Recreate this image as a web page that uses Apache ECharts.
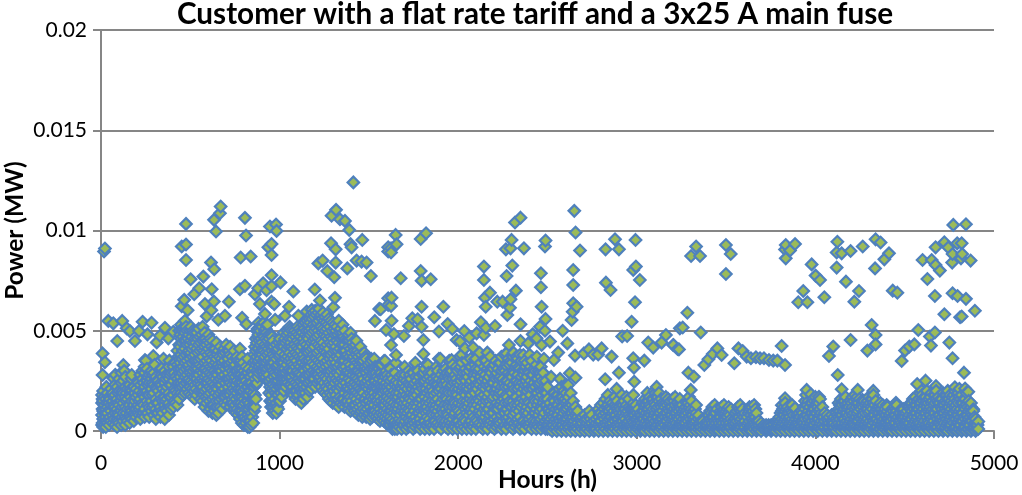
<!DOCTYPE html>
<html><head><meta charset="utf-8">
<script src="https://cdn.jsdelivr.net/npm/echarts@6/dist/echarts.min.js"></script>
<style>html,body{margin:0;padding:0;background:#fff}#c{width:1022px;height:495px}</style>
</head><body><div id="c"></div>
<script>
const chartTitle='Customer with a flat rate tariff and a 3x25 A main fuse';
const xName='Hours (h)', yName='Power (MW)';
// isolated points: [hours, MW]
const isolated=[[22,.0091],[17,.00895],[476,.01033],[452,.0092],[476,.0093],[476,.00853],[670,.0112],[666,.01086],[633,.01053],[644,.00995],[806,.01063],[812,.00975],[782,.00865],[838,.0087],[946,.0102],[980,.0103],[983,.00998],[955,.00933],[937,.00916],[955,.00878],[1413,.0124],[1291,.01074],[1316,.01103],[1338,.01056],[1366,.01048],[1390,.01003],[1288,.00936],[1314,.00906],[1403,.00916],[1397,.00932],[1463,.00953],[1217,.00836],[1241,.0085],[1314,.0084],[1267,.00798],[1306,.00767],[1379,.00811],[1431,.0085],[1459,.00845],[1487,.0084],[1511,.00773],[1608,.00916],[1608,.00895],
[502,.00757],[573,.0077],[616,.0084],[634,.00807],[550,.00712],[522,.00682],[620,.00707],[466,.00654],[452,.00622],[485,.00602],[582,.00633],[632,.00646],[716,.00645],[592,.00572],[694,.00575],[657,.00555],[618,.00602],[778,.00707],[806,.00724],[862,.00682],[880,.00712],[908,.00737],[955,.00722],[927,.00702],[955,.00777],[1005,.00741],[1077,.00696],[890,.00633],[955,.00645],[970,.00633],[1053,.0062],[1197,.00706],[1226,.00651],[1310,.00664],[1301,.00617],[790,.00565],[814,.00533],[927,.00528],[918,.00584],[975,.00555],[1030,.00575],[1105,.00575],[1152,.00596],[1180,.00604],[1534,.00549],[1558,.00609],[1608,.00662],[1608,.00629],
[41,.00549],[69,.00537],[119,.00549],[144,.00512],[162,.00499],[213,.00499],[233,.00545],[283,.0054],[260,.00482],[358,.00515],[330,.00475],[312,.00442],[377,.00462],[190,.00449],[91,.00449],[405,.00495],
[9,.00387],[22,.00343],[9,.00279],[69,.00263],[125,.00329],[172,.00279],[293,.00374],[246,.00354],[340,.00312],[383,.00351],[405,.00337],[367,.00282],
[1650,.00978],[1655,.00931],[1624,.00911],[1624,.0089],[1790,.00958],[1820,.00986],[1678,.00762],[1790,.00798],[1795,.0075],[1846,.00757],[1627,.00665],[1624,.00624],[1795,.0062],[1917,.0062],[1566,.00607],[1627,.0055],[1773,.00557],[1743,.00562],[1795,.0052],[1866,.00567],[1724,.00524],[1596,.00504],[1640,.00484],[1696,.00474],[1624,.00429],[1652,.00379],[1805,.00454],[1805,.00384],[1892,.00496],[1941,.00534],[1967,.00509],[1823,.00334],[1892,.0036],[1584,.00349],[1991,.00454],[2010,.00446],[2034,.00499],[2062,.00466],[2084,.00416],[2038,.00412],[2010,.00371],[1963,.00354],[2094,.00358],[2163,.00391],[2155,.00351],
[2144,.0082],[2144,.00753],[2178,.0069],[2150,.00665],[2154,.0062],[2219,.00645],[2249,.00645],[2293,.00657],[2323,.007],[2290,.00615],[2275,.00579],[2271,.00773],[2303,.00825],[2127,.00542],[2155,.00515],[2206,.00524],[2103,.00487],[2144,.00479],[2349,.00532],[2318,.0104],[2349,.01064],[2299,.00953],[2267,.00906],[2293,.00911],[2368,.00911],[2489,.0095],[2486,.0092],[2463,.00787],[2463,.00717],[2467,.0062],[2489,.00559],[2458,.0052],[2486,.005],[2417,.00482],[2439,.00462],[2467,.00429],[2392,.00437],[2349,.00449],[2284,.00429],[2514,.00446],[2585,.005],[2611,.00437],[2560,.00391],[2536,.00354],[2365,.00379],[2271,.00387],[2327,.00371],
[2650,.01098],[2657,.0099],[2682,.009],[2644,.00803],[2644,.00728],[2644,.00637],[2663,.0062],[2641,.00595],[2635,.00554],[2825,.00906],[2878,.00956],[2900,.00906],[2993,.00953],[2995,.0082],[2980,.00803],[3017,.00753],[2827,.0074],[2853,.00703],[2990,.00642],[2971,.00545],[2946,.00474],[2918,.00471],[2654,.00376],[2704,.00387],[2732,.00407],[2756,.00381],[2784,.00382],[2803,.00412],[2859,.00371],[2625,.00288],[2657,.00266],[2616,.00229],[2823,.00258],[2900,.00291],[2887,.0021],[2980,.00363],[2984,.00316],[3042,.00351],[2986,.00246],[3064,.00441],[3092,.00416],[3139,.00441],[3163,.00479],[3204,.00429],[3228,.00409],[3241,.00512],
[3332,.0092],[3304,.00873],[3354,.00873],[3499,.00928],[3526,.00883],[3499,.00783],[3283,.0059],[3257,.00516],[3358,.00491],[3205,.00429],[3236,.00407],[3451,.00412],[3425,.00384],[3475,.00379],[3401,.00358],[3378,.00329],[3569,.00412],[3593,.00399],[3546,.00338],[3615,.00371],[3639,.00363],[3667,.00368],[3690,.00363],[3712,.00363],[3740,.00354],[3764,.00351],[3787,.00351],[3811,.00424],[3830,.00329],[3289,.00291],[3320,.00271],[3302,.00205],
[3834,.00928],[3886,.00933],[3858,.009],[3830,.00905],[3834,.00861],[3979,.00831],[4001,.00775],[4026,.00753],[3932,.00698],[3904,.00642],[3955,.00642],[4050,.00667],[4123,.00944],[4119,.0089],[4147,.00886],[4197,.00898],[4265,.0092],[4337,.00956],[4365,.0094],[4119,.00815],[4171,.00745],[4334,.00811],[4386,.00856],[4412,.00886],[4244,.00698],[4218,.00645],[4433,.007],[4459,.0069],[4315,.00529],[4337,.00479],[4337,.00432],[4291,.00401],[4197,.00454],[4100,.00421],[4076,.00374],[4125,.00279],[4147,.00208],[4576,.00504],[4554,.00432],[4526,.00421],[4502,.00401],[4483,.00349],[4641,.00471],[4669,.00491],[4647,.00426],[4750,.00441],[4768,.00363],[4832,.00291],[4772,.01028],[4843,.01031],[4673,.00916],[4722,.00941],[4744,.00915],[4794,.00936],[4819,.00936],[4768,.00883],[4822,.00883],[4815,.00861],[4869,.0085],[4766,.0084],[4600,.00853],[4651,.00853],[4673,.00828],[4697,.008],[4627,.00758],[4669,.00673],[4768,.00687],[4796,.00673],[4843,.00659],[4893,.006],[4722,.00582],[4810,.00567],[4819,.00571],[4570,.00234],[4617,.00251],[4595,.00201],[4675,.00224],[4781,.00218],[4856,.00196],[4838,.00212],[4725,.0018],[4884,.00108],[4912,.00047],[4912,.0001],[3951,.00205],[3975,.00183],[4020,.00171],[3830,.00163],[3886,.00113],[3812,.00129],[4237,.00205],[4324,.002],[4264,.00155],[4451,.00141],[4399,.0013],
[1530,.0036],[1560,.0033],[1590,.0035],[1650,.0034],[1700,.0032],[1760,.0034],[1830,.0033],[1900,.0036],[1950,.0035],[2020,.0038],[2070,.0036],[2120,.0039],[2180,.0037],[2210,.0035],[2260,.0038],[2310,.0039],[2400,.0038],[2440,.0037],[2480,.0036],[2520,.0027],[2570,.0026],[130,.003],[170,.0026],[250,.0035],[300,.0033],[350,.0036],[80,.0028],[30,.0022]];
// dense part, per hour: [hours, [kW readings]]
const denseEarly=[[6,[.3,.8,1.4,1.8]],[12,[.2,.6,1,1.5,2]],[19,[.3,.5,.9,1.3,1.7]],[27,[.2,.7,1.1,1.6]],[36,[.4,.9,1.2,1.9]],[45,[.3,.6,1.4,1.7]],[55,[.5,1,1.3,2.1]],[66,[.4,.8,1.5,1.9]],[78,[.3,.9,1.2,1.8,2.3]],[90,[.2,.6,1.1,1.6,2.2]],[101,[.4,.8,1.3,2,2.6]],[113,[.3,1,1.5,2.4,2.9]],[124,[.5,.9,1.4,1.9,2.5]],[136,[.3,.7,1.2,1.7,2.2,2.7]],[148,[.5,1.1,1.6,2.1]],[160,[.4,.8,1.3,1.8,2.3]],[172,[.6,1,1.5,2]],[184,[.5,.9,1.3,1.9,2.2]],[196,[.7,1.1,1.7,2.1]],[208,[.9,1.3,1.8,2.4]],[220,[.6,1.2,1.6,2.3,2.8]],[232,[.8,1.4,1.9,2.6,3]],[244,[.7,1.1,1.7,2.2,2.9,3.2]],[257,[.9,1.5,2,2.5,3.1]],[270,[.7,1.2,1.8,2.4,2.8]],[282,[1,1.5,2.1,2.6,3]],[295,[.8,1.3,1.9,2.3,2.9]],[307,[.6,1.1,1.6,2.2,2.7]],[320,[.9,1.4,2,2.5]],[333,[.7,1.2,1.8,2.4,3.1]],[345,[.9,1.5,2.1,2.7]],[357,[.6,1.3,1.7,2.4,3]],[369,[1,1.6,2.2,2.8]],[381,[.8,1.4,1.9,2.6,3.2]],[393,[1.1,1.7,2.3,2.9]],[405,[1.2,1.8,2.5,3.2]],[417,[1.4,2,2.7,3.4]],[428,[1.3,1.9,2.6,3.3,4]],[438,[1.6,2.2,2.9,3.6,4.3,5]],[448,[1.9,2.4,3.1,3.8,4.6,5.3]],[459,[1.8,2.5,3.2,4,4.7,5.1]],[470,[1.9,2.7,3.4,4.1,4.9,5.5]],[481,[2.1,2.8,3.5,4.3,5]],[492,[1.9,2.6,3.3,4,4.8]],[503,[1.8,2.5,3.1,3.9,4.5,5.2]],[514,[1.7,2.4,3,3.7,4.4,5]],[525,[1.6,2.3,3.1,3.8,4.6]],[536,[1.8,2.6,3.2,4.1,4.9]],[547,[2,2.8,3.5,4.3,5.1]],[558,[1.6,2.3,3,3.6,4.4]],[569,[1.5,2.2,2.9,3.7,4.5,5.2]],[580,[1.2,2,2.7,3.4,4.2,4.9]],[591,[1.4,2.1,2.8,3.5,4.3]],[602,[1,1.8,2.6,3.3,4.1,4.8]],[613,[1.1,1.9,2.5,3.2,3.9,4.6]],[624,[.9,1.6,2.4,3.1,3.8,4.5]],[635,[1,1.7,2.3,3,3.7]],[646,[.8,1.5,2.2,2.9,3.6,4.4]],[657,[.9,1.8,2.5,3.3,4]],[668,[1.2,1.9,2.6,3.2,4.2]],[679,[1.1,2,2.7,3.4,3.9]],[690,[1.4,2.1,2.8,3.5,4.1]],[701,[1.3,1.9,2.6,3.3,4.3]],[712,[1.5,2.2,2.9,3.6]],[723,[1.2,1.8,2.4,3.1,3.8,4.2]],[734,[1.6,2.3,3,3.7]],[745,[1.1,1.7,2.5,3.2,4]],[756,[.9,1.6,2.3,3,3.6]],[767,[.8,1.4,2.1,2.8,3.5]],[778,[.6,1.3,2,2.7,3.4,4.1]],[789,[.4,1,1.7,2.4,3.1,3.7]],[800,[.3,.9,1.6,2.3,3]],[811,[.4,1.1,1.8,2.5,3.2]],[822,[.2,.8,1.5,2.2,2.9,3.6]],[832,[.2,.7,1.4,2,2.7]],[842,[.3,.9,1.6,2.4]],[852,[.4,1.2,1.9,2.8,3.4]],[862,[1.2,1.8,2.6,3.5,4.2]],[872,[2.4,3,3.7,4.4,5]],[882,[2.9,3.5,4.1,4.8,5.4]],[892,[3,3.6,4.3,5]],[902,[3.1,3.8,4.4,5.2]],[912,[2.8,3.4,4,4.7,5.4]],[922,[2.7,3.2,3.9,4.6,5.1]],[932,[2.5,3.1,3.8,4.5,5.3]],[942,[1.9,2.5,3.2,3.9,4.6]],[952,[1.2,1.8,2.6,3.4,4.2,4.8]],[962,[.9,1.5,2.3,3,3.8,4.5]],[972,[1,1.6,2.2,2.9,3.7]],[982,[.9,1.4,2.1,2.8,3.6,4.3]],[992,[1.1,1.8,2.5,3.3,4.1]],[1002,[1.5,2.2,3,3.8,4.6]],[1012,[1.7,2.4,3.1,3.9]],[1023,[2,2.6,3.4,4.2,4.9]],[1034,[2.2,2.9,3.6,4.4]],[1045,[2.4,3,3.7,4.5,5]],[1056,[2.3,3.1,3.9,4.6,5.2]],[1067,[2,2.7,3.4,4.2,5]],[1078,[1.8,2.5,3.3,4.1,4.8]],[1089,[1.6,2.4,3.2,3.9,4.7]],[1100,[1.7,2.3,3,3.8,4.5,5.2]],[1111,[1.5,2.2,2.9,3.7,4.4,5.1]],[1122,[1.4,2.1,2.8,3.6,4.3,5]],[1133,[1.6,2.3,3.1,3.8,4.6,5.3]],[1144,[1.9,2.6,3.3,4,4.8,5.4]],[1155,[1.7,2.4,3.2,4,4.7,5.5]],[1166,[2,2.8,3.5,4.2,5,5.6]],[1177,[2.1,2.9,3.6,4.4,5.1,5.8]],[1188,[2.3,3,3.8,4.5,5.3,5.9]],[1199,[2.2,2.9,3.7,4.6,5.2,6]],[1210,[2.4,3.2,3.9,4.7,5.4]],[1221,[2.5,3.1,4,4.8,5.5,6.1]],[1232,[2.2,3,3.7,4.5,5.2,5.8]],[1243,[2,2.8,3.6,4.4,5.1,5.9]],[1254,[1.9,2.7,3.4,4.2,5,5.7]],[1265,[1.8,2.6,3.5,4.3,5.1,5.8]],[1276,[1.6,2.4,3.3,4.1,4.9,5.6]],[1287,[1.5,2.3,3,3.8,4.7,5.5]],[1298,[1.4,2.2,3.1,3.9,4.6,5.4]],[1309,[1.6,2.4,3.2,4,4.8,5.3]],[1320,[1.3,2.1,2.9,3.7,4.5,5.2]],[1331,[1.2,2,2.8,3.6,4.4,5.5]],[1342,[1.4,2.2,3,3.8,4.6,5.1]],[1353,[1.3,2.3,3.2,4,4.9,5.3]],[1364,[1.2,1.9,2.7,3.5,4.3,5]],[1375,[1.5,2.1,2.9,3.7,4.5]],[1386,[1.1,1.8,2.6,3.4,4.2,4.8]],[1397,[1,1.7,2.5,3.3,4.1,4.9]],[1408,[1.2,2,2.8,3.6,4.4]],[1419,[1,1.7,2.4,3.2,4]],[1430,[.9,1.6,2.3,3,3.8,4.5]],[1441,[.8,1.4,2.2,3,3.7]],[1452,[.9,1.5,2.1,2.9,3.5,4.2]],[1463,[.7,1.3,2,2.8,3.4]],[1474,[.8,1.6,2.3,3.1,3.9]],[1485,[.7,1.4,2.2,2.9,3.6]],[1496,[.8,1.5,2.1,2.7,3.3]],[1507,[.6,1.2,1.9,2.6,3.4]],[1518,[.7,1.4,2,2.8,3.5]],[1529,[.8,1.3,1.9,2.5,3.1]],[1540,[.7,1.5,2.2,2.9]],[1551,[.6,1.2,1.8,2.4,3.2]],[1562,[.5,1.1,1.7,2.3,2.9]],[1573,[.6,1.3,2,2.7,3.3]],[1584,[.5,1,1.6,2.2,2.8]],[1596,[.4,.9,1.5,2.4,3]],[1608,[.3,.8,1.4,2,2.6]],[1620,[.3,.7,1.3,1.9,2.5,3.1]],[1632,[.1,.6,1.2,1.8,2.6]],[1645,[.1,.5,1.1,1.7,2.3,2.9]],[1658,[.1,.4,1,1.6,2.2]],[1670,[.2,.6,1.3,1.9,2.7]],[1683,[.1,.5,1,1.5,2.1,2.8]],[1696,[.3,.9,1.4,2,2.6]],[1709,[.1,.7,1.2,1.8,2.5]],[1722,[.2,.6,1.1,1.7,2.4,3]],[1735,[.3,.8,1.3,1.9,2.6]],[1748,[.1,.5,1.2,1.8,2.3,2.9]],[1761,[.2,.7,1.4,2,2.7]],[1774,[.3,.9,1.5,2.2,3]],[1787,[.1,.6,1.1,1.6,2.4]],[1800,[.2,.8,1.3,2.1,2.8]],[1813,[.1,.5,1,1.7,2.5,3.1]],[1826,[.3,.7,1.2,1.9,2.6]],[1839,[.1,.6,1.4,2,2.7]],[1852,[.2,.9,1.5,2.2,2.9]],[1865,[.1,.5,1.1,1.8,2.4]],[1878,[.3,.8,1.3,1.9,2.7,3.2]],[1891,[.2,.7,1.2,2,2.6]],[1904,[.1,.6,1.4,2.1,2.8]],[1917,[.3,.9,1.6,2.3,3]],[1930,[.2,.5,1.1,1.7,2.5,3.1]],[1943,[.1,.8,1.3,2,2.7]],[1956,[.3,.7,1.5,2.2,2.9]],[1969,[.1,.6,1.2,1.9,2.6,3.3]],[1982,[.2,.9,1.4,2.1,2.8]],[1995,[.1,.5,1.1,1.8,2.4,3]],[2008,[.3,.8,1.6,2.3,3.1]],[2021,[.1,.7,1.3,2,2.7,3.4]],[2034,[.2,.6,1.2,1.9,2.6]],[2047,[.1,.9,1.5,2.2,2.9,3.5]],[2060,[.3,.8,1.4,2.1,3]],[2073,[.1,.5,1.1,1.8,2.5,3.2]],[2086,[.2,.7,1.3,2,2.8]],[2099,[.1,.6,1.5,2.3,3.1,3.6]],[2112,[.3,.9,1.6,2.4,3]],[2125,[.2,.8,1.2,1.9,2.7,3.4]],[2138,[.1,.6,1.4,2.2,2.9]],[2151,[.2,.7,1.3,2.1,2.8,3.5]],[2164,[.1,.5,1.1,1.7,2.5,3.1]],[2177,[.3,.8,1.5,2.3,3]],[2190,[.2,.9,1.6,2.4,3.2]],[2203,[.1,.6,1.2,2,2.7,3.3]],[2216,[.2,.7,1.4,2.1,2.9]],[2229,[.3,.5,1.3,1.9,2.6,3.4]],[2242,[.1,.8,1.5,2.2,3,3.7]],[2255,[.2,.9,1.6,2.4,3.1]],[2268,[.1,.6,1.1,1.8,2.5,3.3]],[2281,[.3,.7,1.4,2.2,2.9,3.6]],[2294,[.2,.5,1.2,2,2.8,3.5]],[2307,[.1,.8,1.5,2.3,3,3.7]],[2320,[.2,.9,1.7,2.5,3.2]],[2333,[.3,.6,1.3,2.1,2.8,3.6]],[2346,[.1,.7,1.4,2.2,3.1,3.8]],[2359,[.2,.5,1.6,2.4,3]],[2372,[.1,.9,1.5,2.3,3,3.5]],[2385,[.3,.8,1.2,2,2.7,3.4]],[2398,[.2,.6,1.4,2.1,2.9]],[2411,[.1,.7,1.3,2.2,2.8,3.5]],[2424,[.3,.9,1.6,2.4,3.1]],[2437,[.1,.5,1.1,1.9,2.6,3.3]],[2450,[.2,.8,1.5,2.3,3]],[2463,[.1,.6,1.2,2,2.7,3.2]],[2476,[.2,.7,1.4,2.1,2.9]],[2489,[.1,.5,1.3,1.9,2.5]],[2500,[.1,.6,1.1,1.6,2.2]]];
const denseLate=[[2513,[.1,.5,.9,1.4]],[2526,[0,.3,.8,1.2]],[2539,[.1,.5,.9,1.5,1.9]],[2552,[0,.4,.8,1.3,1.8]],[2565,[.1,.6,1.1,1.6,2.1]],[2578,[0,.3,.7,1.2,1.7,2.2]],[2591,[.1,.5,.9,1.5,2]],[2604,[0,.4,1,1.4,1.9,2.3]],[2617,[.1,.3,.8,1.3,1.7]],[2630,[0,.5,.9,1.4,1.9]],[2643,[.1,.4,.7,1.1,1.5]],[2656,[0,.3,.8,1.2]],[2669,[.1,.4,.7,1]],[2682,[0,.3,.6]],[2695,[.1,.4,.7]],[2708,[0,.2,.5,.8]],[2721,[.1,.4,.6]],[2734,[0,.3,.7,1]],[2747,[.1,.4,.8]],[2760,[0,.2,.5]],[2773,[.1,.4,.6]],[2786,[0,.3,.7,1.1]],[2799,[.1,.5,.9,1.3]],[2812,[0,.3,.8,1.4]],[2825,[.1,.4,.9,1.6]],[2838,[0,.5,1,1.3,1.8]],[2851,[.1,.3,.7,1.2,1.5]],[2864,[0,.4,.9,1.4]],[2877,[.1,.5,.8,1.3,1.7]],[2890,[0,.3,.6,1.1,1.5]],[2903,[.1,.4,.9,1.2]],[2916,[0,.5,.8,1.4,1.8]],[2929,[.1,.3,.7,1.1,1.5]],[2942,[0,.4,.9,1.3,1.7]],[2955,[.1,.5,.8,1.2,1.6]],[2968,[0,.3,.6,1.1]],[2981,[.1,.4,.8,1.4,1.8]],[2994,[0,.2,.6,1,1.3]],[3007,[.1,.4,.7,1.1]],[3020,[0,.3,.5,.9]],[3033,[.1,.2,.6,1,1.4]],[3046,[0,.4,.8,1.2,1.6]],[3059,[.1,.3,.7,1.1,1.5,1.9]],[3072,[0,.5,.9,1.3,1.7]],[3085,[.1,.3,.6,1,1.6]],[3098,[0,.4,.8,1.4,2]],[3111,[.1,.2,.7,1.1,1.7,2.2]],[3124,[0,.5,.9,1.5,1.9]],[3137,[.1,.3,.6,1.2,1.6]],[3150,[0,.4,.8,1.3]],[3163,[.1,.5,.9,1.4,1.7]],[3176,[0,.2,.7,1.1,1.6]],[3189,[.1,.4,.8,1.2,1.5]],[3202,[0,.3,.6,1,1.6]],[3215,[.1,.5,.9,1.3,1.7]],[3228,[0,.2,.7,1.1,1.4]],[3241,[.1,.4,.8,1.2,1.6]],[3254,[0,.3,.5,.9,1.3]],[3267,[.1,.4,.8,1.1]],[3280,[0,.2,.6,1,1.4]],[3293,[.1,.3,.7,1.2,1.7]],[3306,[0,.4,.8,1.1,1.5]],[3319,[.1,.3,.6,1]],[3332,[0,.2,.5,.9,1.3]],[3345,[.1,.3,.6,.8]],[3358,[0,.2,.5]],[3371,[.1,.3,.5]],[3384,[0,.2,.4]],[3397,[.1,.3,.5,.8]],[3410,[0,.2,.6,1]],[3423,[.1,.4,.7,1.2]],[3436,[0,.3,.5,.9,1.3]],[3449,[.1,.2,.6,1.1]],[3462,[0,.4,.7]],[3475,[.1,.3,.5,.9,1.2]],[3488,[0,.2,.6,1.1,1.3]],[3501,[.1,.4,.7,1]],[3514,[0,.3,.5,.9,1.2]],[3527,[.1,.2,.6,1.1]],[3540,[0,.3,.5]],[3553,[.1,.4,.6,.9]],[3566,[0,.2,.7,1.2]],[3579,[.1,.3,.5,1,1.3]],[3592,[0,.4,.8,1.1]],[3605,[.1,.2,.5,.9]],[3618,[0,.3,.7]],[3631,[.1,.2,.5,1,1.2]],[3644,[0,.3,.6,1.2]],[3657,[.1,.4,.8,1.3]],[3670,[0,.2,.5,.9]],[3683,[.1,.3,.5]],[3696,[0,.2,.4]],[3710,[.1,.2,.3]],[3724,[0,.1,.3]],[3738,[.1,.2,.3]],[3752,[0,.1,.3]],[3766,[.1,.2,.35]],[3780,[0,.2,.4]],[3792,[.1,.3,.6]],[3805,[0,.2,.5,.9]],[3818,[.1,.4,.8,1.1]],[3831,[0,.3,.6,1,1.4]],[3844,[.1,.2,.5,.9,1.2]],[3857,[0,.4,.7,1.1]],[3870,[.1,.3,.6,.9,1.3]],[3883,[0,.2,.5,1.1]],[3896,[.1,.4,.8]],[3909,[0,.3,.6,.9]],[3922,[.1,.2,.5,1]],[3935,[0,.4,.7,1.2]],[3948,[.1,.3,.8,1.3,1.8]],[3961,[0,.2,.6,1,1.5]],[3974,[.1,.4,.9,1.4]],[3987,[0,.3,.7,1.1,1.6]],[4000,[.1,.5,.9,1.3,1.7]],[4013,[0,.2,.6,1.2,1.5]],[4026,[.1,.4,.8,1.1,1.6]],[4039,[0,.3,.7,1.2]],[4052,[.1,.2,.5,.9]],[4065,[0,.3,.6,.8]],[4078,[.1,.2,.4,.7]],[4091,[0,.3,.5,.8]],[4104,[.1,.2,.4,.7]],[4117,[0,.3,.6,.9]],[4130,[.1,.4,.7,1.1,1.4]],[4143,[0,.3,.8,1.2,1.6]],[4156,[.1,.2,.6,1,1.5]],[4169,[0,.4,.9,1.3,1.7]],[4182,[.1,.3,.7,1.1,1.4]],[4195,[0,.2,.5,1,1.5]],[4208,[.1,.4,.8,1.2,1.7]],[4221,[0,.3,.6,1.1,1.8]],[4234,[.1,.5,.9,1.4,1.7]],[4247,[0,.2,.7,1.2,1.6]],[4260,[.1,.4,.8,1.3]],[4273,[0,.3,.6,1,1.5]],[4286,[.1,.2,.5,1.1,1.4]],[4299,[0,.4,.9,1.3,1.7]],[4312,[.1,.3,.7,1.2,1.6]],[4325,[0,.5,.8,1.4,1.8]],[4338,[.1,.2,.6,1,1.5]],[4351,[0,.4,.9,1.2]],[4364,[.1,.3,.7,1.1,1.4]],[4377,[0,.2,.5,.9,1.3]],[4390,[.1,.4,.8,1.1]],[4403,[0,.3,.6,1,1.2]],[4416,[.1,.2,.5,.8]],[4429,[0,.3,.7,1.1]],[4442,[.1,.4,.8,1.2]],[4455,[0,.2,.6,1,1.3]],[4468,[.1,.3,.5,.9]],[4481,[0,.4,.7,1.1]],[4494,[.1,.2,.6,.9,1.1]],[4507,[0,.3,.5,.9]],[4520,[.1,.4,.7,1.2]],[4533,[0,.2,.6,1.1,1.4]],[4546,[.1,.3,.8,1.2,1.6]],[4559,[0,.5,.9,1.3,1.7]],[4572,[.1,.2,.7,1.1,1.5]],[4585,[0,.4,.8,1.4,1.9]],[4598,[.1,.3,.6,1,1.6,1.8]],[4611,[0,.5,.9,1.3,1.7]],[4624,[.1,.2,.7,1.2,1.5,2]],[4637,[0,.4,.8,1.1,1.6]],[4650,[.1,.3,.6,1,1.4,1.9]],[4663,[0,.5,.9,1.3,1.8]],[4676,[.1,.2,.7,1.1,1.6,2]],[4689,[0,.4,.8,1.4,1.7]],[4702,[.1,.3,.6,1.2,1.6]],[4715,[0,.5,.9,1.3,1.9]],[4728,[.1,.2,.7,1.1,1.5]],[4741,[0,.4,.8,1.2,1.6,2]],[4754,[.1,.3,.6,1,1.4,1.8]],[4767,[0,.5,.9,1.3,1.7]],[4780,[.1,.2,.7,1.2,1.6,2]],[4793,[0,.4,.8,1.1,1.5]],[4806,[.1,.3,.6,1,1.7,2.1]],[4819,[0,.5,.9,1.4,1.8]],[4832,[.1,.2,.7,1.2,1.6]],[4845,[0,.4,.8,1.3,1.9]],[4858,[.1,.3,.6,1,1.5]],[4871,[0,.5,.9,1.2,1.4]],[4884,[.1,.2,.7,1]],[4897,[0,.3,.6]],[4908,[.1,.3]]];
// more readings inside the solid band
const fillEarly=[[9,[1.1,.4,1.6]],[31,[.9,1.4,.5]],[50,[1.6,.7,1.1]],[72,[1.3,.6,1.7]],[95,[.9,1.4,1.9,.5]],[118,[2,1.2,.7,1.7]],[142,[1.5,.9,1.9,.6]],[166,[1.1,1.7,.7,2.1]],[190,[1.5,.8,1.9,1.1]],[214,[1.1,2,1.5,.8]],[238,[2.4,1.3,.9,1.8]],[262,[1.3,2.3,1.8,.9,2.7]],[288,[1.8,1.2,2.4,2.8]],[312,[2.1,1.4,.9,2.5]],[338,[1.6,2.3,1,2.8]],[362,[2,1.1,2.6,1.5]],[386,[2.3,1.2,2.8,1.7]],[410,[2.1,1.5,2.9]],[432,[2.4,3.1,1.7,3.7]],[444,[3.4,2.1,4.2,2.7,4.8]],[454,[3.6,2.2,4.4,2.9,5]],[464,[2.3,3.7,4.5,3,5.2]],[476,[3.1,4.5,2.4,3.8,5.2]],[487,[2.5,3.9,4.6,3.2]],[498,[4.3,2.2,3.6,2.9,5]],[509,[2.1,3.4,4.7,2.8,4.1]],[520,[3.5,2,4.2,2.7,4.9]],[531,[4.4,2.1,3.5,2.8]],[542,[2.4,3.9,3.1,4.6]],[553,[3.3,2.5,4.7,4]],[564,[2,3.2,4.1,2.6,4.8]],[575,[3.1,1.8,4,2.5,4.6]],[586,[1.7,3.1,3.9,2.4,4.6]],[597,[2.4,1.6,3.8,3,4.5]],[608,[3.6,1.5,2.9,2.2,4.4]],[619,[1.3,3.5,2.8,2.1,4.2]],[630,[2,1.3,3.3,2.7,4.1]],[641,[3.4,1.2,2.6,1.9,4.1]],[652,[1.2,3.2,2.1,2.8,3.8]],[663,[2.3,1.5,3,3.7]],[674,[1.6,3.6,2.3,3]],[685,[3.2,1.7,2.5,3.8]],[696,[1.7,3.1,2.4,3.9]],[707,[2.6,1.8,3.3,4]],[718,[1.9,3.3,2.6,4]],[729,[2.7,1.4,3.4,2]],[740,[1.4,3.5,2.1,2.8]],[751,[2,1.3,3.3,2.7]],[762,[1.1,3,1.9,2.5,3.7]],[773,[1.7,1,2.4,3.1]],[784,[.9,2.1,2.8,1.4,3.5]],[795,[1.3,.7,2,2.7,3.4]],[806,[.7,2.7,1.4,2.1]],[817,[1.5,.6,2.2,2.9]],[827,[.5,1.8,1.1,2.4,3.1]],[837,[1.2,.5,2,2.7]],[847,[1.6,.7,2.2,3]],[857,[2.2,1,3.1,1.6,3.8]],[867,[3.3,1.6,4,2.3,4.6]],[877,[3.4,2.7,4.7,4.1,5.1]],[887,[3.8,3.2,4.5,5.1]],[897,[4.6,3.3,4,5.3]],[907,[3.5,4.1,3,4.8]],[917,[4.3,3.1,3.7,5]],[927,[3.4,2.9,4.2,4.9]],[937,[2.8,4.1,3.5,4.8]],[947,[2.2,3.6,1.5,4.3]],[957,[2.1,1.4,3.2,4,4.7]],[967,[3.4,1.2,2,2.7,4.2]],[977,[1.3,2.5,1.9,3.2,4]],[987,[2.4,1.2,3.2,1.8,4]],[997,[1.5,2.9,2.2,3.7,4.4]],[1007,[2.6,1.9,3.4,4.2]],[1018,[2.2,3.5,2.9,4.4]],[1029,[2.4,3.8,3.1,4.6]],[1040,[3.3,2.6,4.1,4.8]],[1051,[2.7,3.5,4.2,4.9]],[1062,[3.6,2.3,4.4,3,5.1]],[1073,[2.2,3.8,3,4.6]],[1084,[3.6,2,4.3,2.8,5]],[1095,[2,2.9,3.5,4.2,4.9]],[1106,[3.3,1.8,2.6,4.1,4.8]],[1117,[2,3.2,2.5,4,4.7]],[1128,[3.4,1.9,2.6,4.2,4.9]],[1139,[2.1,3,3.6,4.4,5.1]],[1150,[3.5,2.2,2.8,4.3,5]],[1161,[2.4,3.1,3.9,4.6,5.3]],[1172,[3.2,2.5,4,4.8,5.4]],[1183,[2.6,3.4,4.1,4.9,5.6]],[1194,[3.3,2.6,4.2,5,5.7]],[1205,[2.8,3.6,4.4,5.1,5.8]],[1216,[3.5,2.8,4.3,5,5.9]],[1227,[2.7,3.4,4.2,5.2,5.7]],[1238,[3.3,2.5,4.1,4.9,5.6]],[1249,[2.4,3.1,4,4.8,5.5]],[1260,[3.2,2.2,3.9,4.7,5.4]],[1271,[2.1,3,3.8,4.6,5.3]],[1282,[2.8,1.9,3.6,4.4,5.2]],[1293,[1.8,2.6,3.4,4.3,5]],[1304,[2.8,2,3.6,4.4,5.1]],[1315,[1.8,2.6,3.4,4.2,5]],[1326,[2.5,1.6,3.2,4,4.8]],[1337,[1.7,2.4,3.3,4.1,4.9]],[1348,[2.6,1.6,3.5,4.3,4.7]],[1359,[1.6,2.5,3.1,4,4.7]],[1370,[2.4,1.4,3.2,4,4.6]],[1381,[1.5,2.2,3,3.8,4.5]],[1392,[2.1,1.3,2.9,3.7,4.5]],[1403,[1.5,2.3,3.1,3.9,4.6]],[1414,[2.2,1.3,3,3.7,4.2]],[1425,[1.3,2,2.7,3.5,4.3]],[1436,[1.9,1.1,2.6,3.4,4]],[1447,[1.2,1.8,2.5,3.3,3.9]],[1458,[1.7,1,2.4,3.2,3.8]],[1469,[1.1,1.9,2.6,3.5]],[1480,[1.6,1,2.4,3.2,3.7]],[1491,[1.1,1.8,2.5,3.1]],[1502,[1.5,.9,2.3,3]],[1513,[1,1.7,2.4,3.1,3.6]],[1524,[1.6,1,2.2,2.9]],[1535,[1,1.7,2.5,3.2]],[1546,[1.5,.9,2.1,2.7]],[1557,[.8,1.4,2,2.6,3.1]],[1568,[1.5,.9,2.2,2.9]],[1579,[.8,1.3,1.9,2.5]],[1590,[1.3,.7,2,2.7]],[1602,[.6,1.1,1.7,2.2,2.8]],[1614,[1.6,.5,1,2.3]],[1626,[.5,1,1.5,2.2,2.8]],[1639,[1.4,.3,.9,2]],[1652,[.3,.8,1.3,1.9,2.5]],[1664,[1.1,.3,1.7,2.4]],[1677,[.4,.8,1.5,2.2]],[1690,[1.2,.3,1.8,2.4]],[1703,[.5,1,1.6,2.2,2.8]],[1716,[1.4,.3,.9,2.1]],[1729,[.5,1,1.6,2.3,2.8]],[1742,[1.5,.3,.8,2.1]],[1755,[.4,1,1.7,2.4]],[1768,[1.2,.5,1.8,2.5]],[1781,[.4,.9,1.4,2,2.7]],[1794,[1.6,.4,1,2.3]],[1807,[.5,1.1,1.8,2.4,2.9]],[1820,[1.4,.3,.9,2.1]],[1833,[.4,1,1.6,2.3,2.9]],[1846,[1.1,.4,1.8,2.5]],[1859,[.3,.8,1.3,2,2.6]],[1872,[1.5,.5,1.1,2.3]],[1885,[.4,1,1.6,2.3,3]],[1898,[1.4,.3,.8,2.2]],[1911,[.5,1.1,1.8,2.5]],[1924,[1.3,.4,2,2.7]],[1937,[.3,.9,1.6,2.3,2.9]],[1950,[1.2,.5,1.9,2.6]],[1963,[.4,1,1.6,2.3,3]],[1976,[1.5,.3,.8,2.4]],[1989,[.4,1.2,1.9,2.6,3.2]],[2002,[1.4,.5,1,2.1]],[2015,[.3,.9,1.7,2.5,3.2]],[2028,[1.5,.4,2.2,2.9]],[2041,[.5,1.1,1.8,2.5,3.1]],[2054,[1.2,.3,2,2.7]],[2067,[.5,1,1.6,2.3,3.2]],[2080,[1.5,.3,.9,2.2]],[2093,[.4,1.1,1.9,2.6,3.3]],[2106,[1.3,.5,2.1,2.8]],[2119,[.4,1,1.5,2.3,3.1]],[2132,[1.7,.3,.9,2.5]],[2145,[.5,1.1,1.8,2.6,3.2]],[2158,[1.5,.3,.9,2.3]],[2171,[.4,1.1,1.9,2.7,3.3]],[2184,[1.3,.5,2.1,2.9]],[2197,[.4,.9,1.7,2.4,3.1]],[2210,[1.1,.3,1.9,2.6]],[2223,[.5,1.1,1.7,2.3,3.1]],[2236,[1.3,.4,2,2.7,3.4]],[2249,[.5,1.2,1.9,2.6]],[2262,[1.4,.3,.9,2.2,3]],[2275,[.5,1.1,1.7,2.5,3.2]],[2288,[1.5,.3,.9,2.4,3.3]],[2301,[.5,1.2,1.9,2.7,3.4]],[2314,[1.3,.4,2.1,2.9]],[2327,[.5,1.1,1.7,2.5,3.3]],[2340,[1.5,.4,1,2.4,3.2]],[2353,[.3,1.2,1.9,2.7,3.5]],[2366,[1.3,.5,2.1,2.8]],[2379,[.4,1,1.7,2.5,3.2]],[2392,[1.5,.3,.9,2.3,3]],[2405,[.4,1.1,1.8,2.5,3.2]],[2418,[1.3,.5,2.1,2.8]],[2431,[.4,.9,1.5,2.2,3]],[2444,[1.3,.3,1.9,2.6]],[2457,[.5,1,1.7,2.4,2.9]],[2470,[1.1,.3,1.8,2.5]],[2483,[.4,.9,1.6,2.2]],[2495,[1.3,.3,1.9]]];
const fillLate=[[2507,[.3,.7,1.1]],[2520,[.6,.2,1]],[2533,[.3,.7,1.2,1.6]],[2546,[.6,.2,1.1]],[2559,[.3,.8,1.3,1.8]],[2572,[1,.2,.5,1.5]],[2585,[.3,.7,1.2,1.7]],[2598,[.6,.2,1.1,1.6]],[2611,[.3,.6,1.1,1.5]],[2624,[.7,.2,1.2]],[2637,[.3,.6,.9,1.3]],[2650,[.5,.1,1]],[2663,[.2,.6,.9]],[2689,[.2,.5]],[2715,[.2,.6]],[2741,[.2,.6]],[2767,[.3,.1]],[2793,[.2,.5,.9]],[2818,[.6,.2,1.1]],[2832,[.3,.7,1.2]],[2845,[.6,.2,1]],[2858,[.2,.7,1.1]],[2871,[.6,.2,1]],[2884,[.3,.8,1.2]],[2897,[.6,.2,1]],[2910,[.3,.7,1.1]],[2923,[.5,.2,.9,1.3]],[2936,[.2,.6,1.1]],[2949,[.4,.2,1]],[2962,[.2,.7,1.1]],[2975,[.5,.2,1.1]],[2988,[.3,.8,1.1]],[3001,[.6,.2,.9]],[3014,[.2,.5,.8]],[3027,[.4,.1,.8]],[3040,[.2,.6,1,1.3]],[3053,[.5,.2,.9,1.3]],[3066,[.2,.7,1.1,1.5]],[3079,[.5,.2,.8,1.2]],[3092,[.2,.6,1.1,1.6]],[3105,[.5,.2,.9,1.3,1.9]],[3118,[.3,.7,1.2,1.7]],[3131,[.5,.2,.9,1.3]],[3144,[.2,.6,1,1.4]],[3157,[.3,.7,1.2]],[3170,[.5,.2,.9,1.3]],[3183,[.2,.6,1,1.4]],[3196,[.5,.2,.8,1.2]],[3209,[.2,.7,1.1,1.5]],[3222,[.4,.1,.9]],[3235,[.2,.6,1,1.3]],[3248,[.4,.2,.7,1.1]],[3261,[.2,.6,1]],[3274,[.4,.1,.8,1.2]],[3287,[.2,.5,.9,1.4]],[3300,[.6,.2,1,1.3]],[3313,[.2,.4,.8]],[3326,[.4,.1,.7,1.1]],[3352,[.2,.4]],[3391,[.2,.4]],[3404,[.4,.1,.8]],[3417,[.2,.5,.9]],[3430,[.7,.2,1.1]],[3443,[.4,.1,.9]],[3456,[.2,.5]],[3469,[.7,.2,1]],[3482,[.4,.1,.9]],[3495,[.2,.6,.9]],[3508,[.7,.1,1.1]],[3521,[.4,.2,.8]],[3547,[.2,.6]],[3560,[.5,.1,1]],[3573,[.2,.7,1.1]],[3586,[.6,.2,1]],[3599,[.3,.7]],[3625,[.4,.1,.9]],[3638,[.2,.8,1.1]],[3651,[.5,.2,1]],[3664,[.3,.7,1.1]],[3677,[.4,.1]],[3786,[.2,.4]],[3799,[.4,.1,.7]],[3812,[.2,.6,1]],[3825,[.5,.1,.8,1.2]],[3838,[.2,.7,1.1]],[3851,[.6,.2,.9]],[3864,[.2,.5,1]],[3877,[.4,.1,.8]],[3890,[.2,.6]],[3903,[.4,.1,.7]],[3916,[.2,.7]],[3929,[.5,.1,.9]],[3942,[.2,.6,1.1,1.5]],[3955,[.4,.1,.8,1.3]],[3968,[.2,.7,1.2]],[3981,[.5,.1,.9,1.4]],[3994,[.3,.7,1.1,1.5]],[4007,[.4,.1,.9,1.3]],[4020,[.2,.6,1,1.4]],[4033,[.5,.1,.9]],[4046,[.2,.7]],[4072,[.3,.1,.5]],[4098,[.3,.1,.5]],[4124,[.2,.5,.8]],[4137,[.6,.2,1,1.3]],[4150,[.2,.4,.8,1.3]],[4163,[.6,.2,1.1,1.5]],[4176,[.2,.5,.9,1.2]],[4189,[.4,.1,.8,1.2]],[4202,[.2,.6,1,1.4]],[4215,[.4,.1,.9,1.5]],[4228,[.2,.7,1.2,1.6]],[4241,[.5,.1,1,1.4]],[4254,[.2,.6,1.1]],[4267,[.5,.1,.8,1.2]],[4280,[.3,.7,.9,1.3]],[4293,[.6,.2,1.1,1.5]],[4306,[.2,.5,1,1.4]],[4319,[.3,.7,1.1,1.6]],[4332,[.4,.1,.8,1.3]],[4345,[.2,.6,1.1]],[4358,[.5,.1,.9,1.2]],[4371,[.3,.7,1.1]],[4384,[.6,.2,.9]],[4397,[.2,.4,.8]],[4410,[.3,.1,.6]],[4423,[.2,.5,.9]],[4436,[.6,.2,1]],[4449,[.4,.1,.8,1.1]],[4462,[.2,.7]],[4475,[.5,.1,.9]],[4488,[.3,.7]],[4501,[.4,.1,.7]],[4514,[.2,.5,1]],[4527,[.4,.1,.8,1.2]],[4540,[.2,.6,1,1.4]],[4553,[.4,.1,.7,1.1,1.5]],[4566,[.3,.6,.9,1.3]],[4579,[.5,.2,1.1,1.6]],[4592,[.2,.8,1.2,1.4]],[4605,[.4,.1,.7,1.1,1.5]],[4618,[.3,.9,1.4,1.7]],[4631,[.5,.2,1,1.4]],[4644,[.2,.8,1.2,1.7]],[4657,[.4,.1,.7,1.1,1.5]],[4670,[.3,.9,1.4,1.8]],[4683,[.6,.2,1.1,1.5]],[4696,[.4,.8,1.4]],[4709,[.2,.7,1.1,1.6]],[4722,[.4,.1,.9,1.3]],[4735,[.3,.6,1,1.4,1.8]],[4748,[.5,.2,.9,1.2,1.6]],[4761,[.3,.7,1.1,1.5]],[4774,[.4,.1,.9,1.4,1.8]],[4787,[.2,.6,1,1.3]],[4800,[.4,.1,.8,1.4,1.9]],[4813,[.3,.7,1.1,1.6]],[4826,[.5,.1,.9,1.4]],[4839,[.2,.6,1.1,1.6]],[4852,[.4,.1,.8,1.2]],[4865,[.3,.7,1.1]],[4878,[.5,.1,.8]],[4891,[.2,.4,.7]],[4903,[.1,.4]]];

const points=isolated.slice();
[denseEarly,fillEarly,denseLate,fillLate].forEach(block=>block.forEach(([h,list])=>list.forEach(kw=>points.push([h,kw/1000]))));
points.sort((a,b)=>a[0]-b[0]);

const font='Lato, "Open Sans", sans-serif';
const gray='#868686';
const chart=echarts.init(document.getElementById('c'),null,{renderer:'canvas'});
chart.setOption({
  animation:false,
  title:{text:chartTitle,left:530,top:-6,textAlign:'center',textStyle:{fontFamily:font,fontSize:29.7,fontWeight:'bold',color:'#000'}},
  grid:{left:101,right:28,top:30,bottom:64,containLabel:false,outerBoundsMode:'none'},
  xAxis:{type:'value',min:0,max:5000,interval:1000,name:xName,nameLocation:'middle',nameGap:37,nameMoveOverlap:false,
    nameTextStyle:{fontFamily:font,fontSize:24.5,fontWeight:'bold',color:'#000'},
    axisLine:{show:true,onZero:false,lineStyle:{color:gray,width:2}},
    axisTick:{show:true,length:8,lineStyle:{color:gray,width:2}},
    axisLabel:{fontFamily:font,fontSize:21,color:'#000',margin:22,formatter:v=>String(v)},splitLine:{show:false}},
  yAxis:{type:'value',min:0,max:0.02,interval:0.005,name:yName,nameLocation:'middle',nameGap:73,nameMoveOverlap:false,
    nameTextStyle:{fontFamily:font,fontSize:24.5,fontWeight:'bold',color:'#000'},
    axisLine:{show:true,lineStyle:{color:gray,width:2}},
    axisTick:{show:true,length:8,lineStyle:{color:gray,width:2}},
    axisLabel:{fontFamily:font,fontSize:21,color:'#000',margin:14,formatter:v=>String(+v.toFixed(3))},
    splitLine:{show:true,lineStyle:{color:gray,width:2}}},
  series:[{type:'scatter',data:points,symbol:'diamond',symbolSize:11.5,large:false,
    itemStyle:{color:'#9BBB59',borderColor:'#4F81BD',borderWidth:2.2,opacity:1}}]
});
</script></body></html>
